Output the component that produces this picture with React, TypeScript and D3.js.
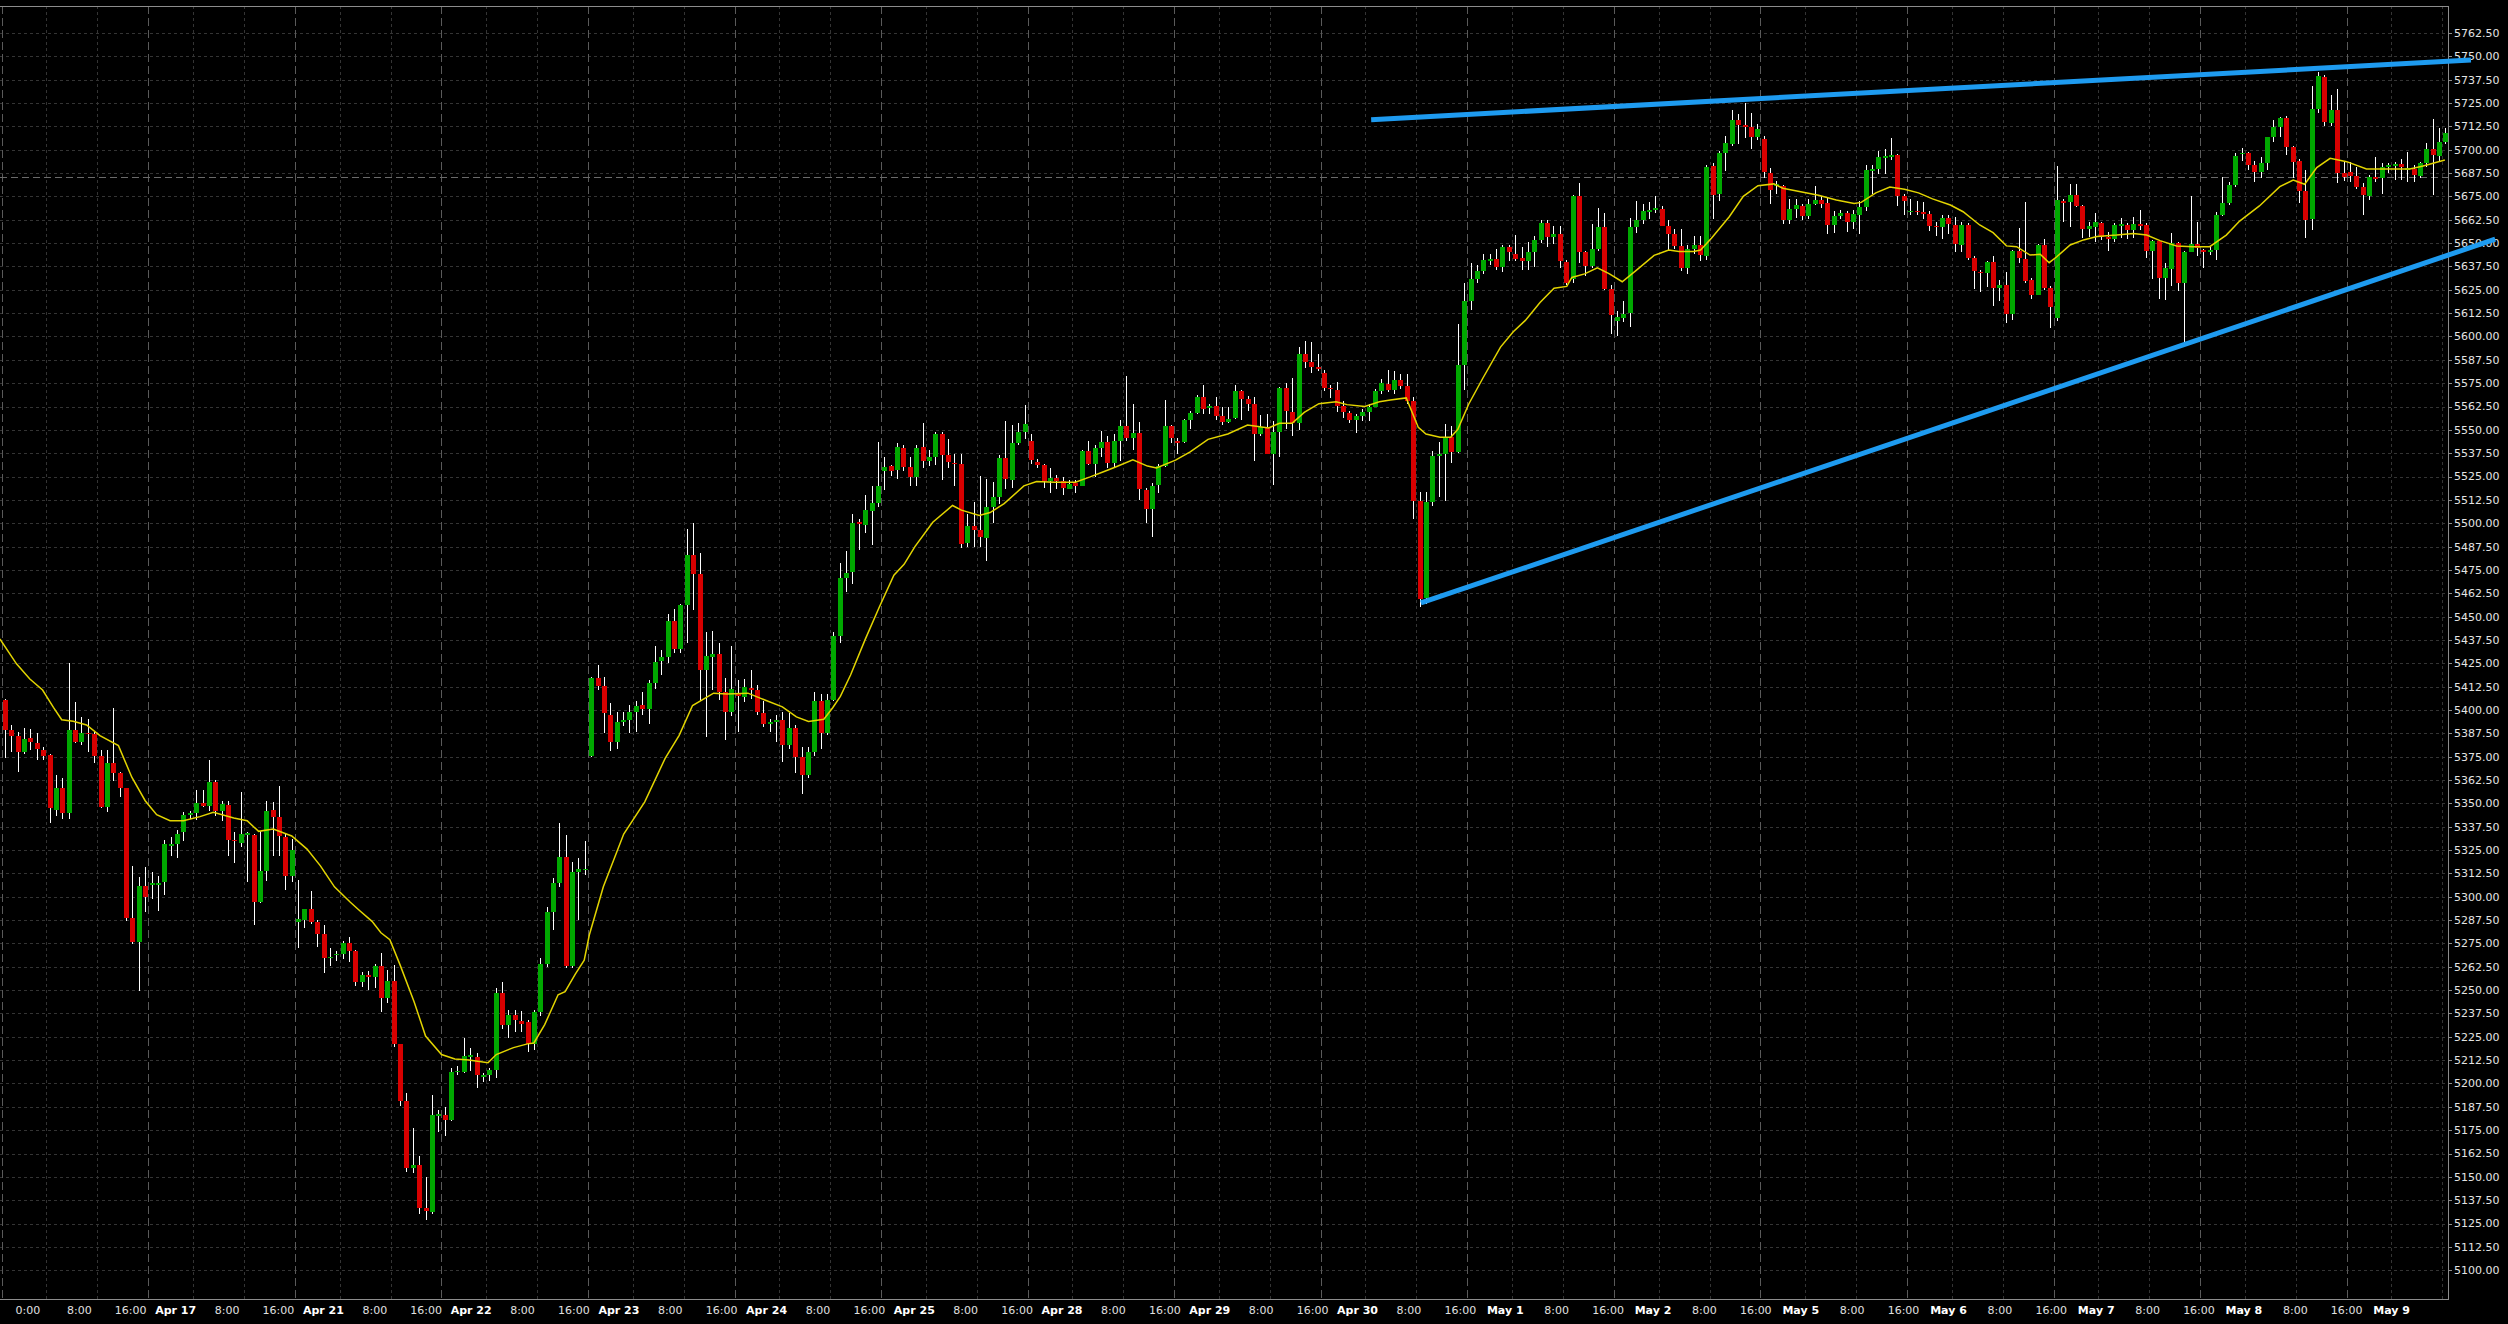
import React from "react";
import * as d3 from "d3";

// ES futures, hourly bars, 17 sessions (Apr 16 - May 9)
const W = 2508;
const H = 1324;
const PLOT_RIGHT = 2448;
const PLOT_TOP = 6;
const PLOT_BOTTOM = 1299;
const PER_SESSION = 23;

const sessionLabels = [
  "0:00", "Apr 17", "Apr 21", "Apr 22", "Apr 23", "Apr 24", "Apr 25", "Apr 28", "Apr 29",
  "Apr 30", "May 1", "May 2", "May 5", "May 6", "May 7", "May 8", "May 9",
];

const opens = [
  5405.5, 5389.5, 5386.3, 5377.7, 5385.2, 5382.5, 5378.8, 5376.1, 5346.6, 5358.4, 5344.6, 5389.5, 5382.7, 5387.9, 5387.0, 5375.6, 5348.2, 5371.6, 5366.4, 5358.0, 5288.7, 5275.9, 5305.5,
  5306.6, 5306.6, 5307.7, 5327.3, 5328.4, 5334.4, 5343.9, 5344.6, 5350.4, 5348.8, 5361.6, 5345.7, 5349.3, 5330.5, 5329.0, 5333.5, 5333.0, 5297.2, 5314.0, 5346.6, 5342.9, 5332.1, 5310.9,
  5286.3, 5287.6, 5293.2, 5286.3, 5280.2, 5267.2, 5268.6, 5269.4, 5275.0, 5270.9, 5254.4, 5258.3, 5257.1, 5263.0, 5245.5, 5255.1, 5220.9, 5190.4, 5154.8, 5156.3, 5133.2, 5131.2, 5183.1,
  5183.1, 5180.4, 5205.9, 5206.4, 5214.3, 5214.3, 5203.3, 5204.5, 5207.4, 5248.7, 5231.5, 5236.9, 5233.2, 5232.7, 5220.9, 5238.4, 5264.0, 5291.8, 5307.3, 5321.5, 5263.0, 5313.4, 5314.1,
  5375.4, 5416.9, 5413.0, 5397.5, 5382.7, 5393.3, 5394.8, 5398.7, 5402.4, 5400.4, 5414.7, 5426.3, 5428.2, 5447.9, 5432.4, 5456.0, 5482.8, 5473.0, 5421.3, 5428.2, 5430.0, 5409.8, 5398.7,
  5408.6, 5406.8, 5411.8, 5410.5, 5398.2, 5392.6, 5393.3, 5394.8, 5381.5, 5390.6, 5374.6, 5365.0, 5377.3, 5404.9, 5387.7, 5405.4, 5439.8, 5470.9, 5473.8, 5500.5, 5499.0, 5506.7, 5510.9,
  5528.1, 5530.6, 5528.7, 5540.3, 5530.0, 5524.5, 5540.7, 5533.4, 5535.4, 5547.6, 5536.5, 5532.5, 5531.5, 5489.5, 5498.4, 5496.5, 5492.3, 5508.6, 5514.3, 5535.0, 5523.3, 5543.0, 5548.7,
  5544.0, 5533.0, 5531.1, 5522.5, 5524.3, 5522.5, 5518.5, 5521.4, 5520.1, 5538.6, 5531.5, 5540.5, 5543.4, 5532.5, 5544.0, 5552.2, 5545.9, 5548.4, 5517.8, 5507.6, 5520.4, 5530.6, 5552.2,
  5543.8, 5543.6, 5555.2, 5558.9, 5567.5, 5561.6, 5562.7, 5557.3, 5554.1, 5556.4, 5570.7, 5566.3, 5563.7, 5547.8, 5551.6, 5537.3, 5549.1, 5572.6, 5559.8, 5553.5, 5590.4, 5586.4, 5583.7,
  5580.3, 5572.6, 5571.3, 5562.7, 5558.9, 5555.4, 5557.3, 5559.3, 5562.5, 5570.7, 5574.6, 5571.3, 5576.7, 5573.6, 5565.2, 5512.1, 5460.0, 5511.1, 5535.9, 5536.9, 5546.1, 5537.9, 5584.7,
  5619.1, 5630.6, 5635.0, 5640.6, 5641.5, 5637.0, 5647.8, 5644.0, 5642.1, 5640.2, 5645.0, 5651.7, 5660.6, 5653.0, 5654.9, 5639.8, 5631.0, 5675.2, 5645.4, 5637.9, 5646.9, 5658.7, 5625.5,
  5608.2, 5610.1, 5612.5, 5658.4, 5662.2, 5666.6, 5667.9, 5668.3, 5658.9, 5654.9, 5648.4, 5636.4, 5646.9, 5648.8, 5643.0, 5691.2, 5676.1, 5698.5, 5703.3, 5715.7, 5713.4, 5712.3, 5706.6,
  5705.6, 5687.6, 5680.7, 5680.7, 5662.6, 5668.3, 5669.8, 5664.7, 5671.2, 5673.1, 5671.4, 5659.9, 5664.7, 5666.0, 5661.2, 5665.0, 5669.3, 5688.4, 5689.6, 5695.6, 5696.4, 5697.0, 5675.0,
  5666.6, 5667.3, 5666.6, 5665.4, 5659.3, 5658.4, 5663.5, 5659.7, 5649.0, 5659.7, 5641.8, 5634.7, 5634.2, 5639.7, 5626.1, 5627.6, 5612.1, 5645.8, 5641.5, 5630.2, 5622.2, 5649.0, 5626.1,
  5609.7, 5672.5, 5672.2, 5675.8, 5669.9, 5657.6, 5658.8, 5660.9, 5653.1, 5652.0, 5659.5, 5659.7, 5657.0, 5660.2, 5659.7, 5645.8, 5651.1, 5631.5, 5636.2, 5649.9, 5628.8, 5645.4, 5649.5,
  5646.3, 5645.4, 5646.3, 5665.0, 5671.3, 5681.1, 5697.5, 5698.1, 5691.8, 5688.2, 5693.1, 5706.6, 5712.0, 5716.8, 5701.3, 5694.0, 5677.9, 5662.7, 5721.6, 5738.8, 5714.5, 5721.3, 5687.4,
  5688.2, 5685.9, 5679.9, 5675.4, 5685.2, 5684.7, 5690.9, 5691.5, 5692.4, 5689.1, 5689.5, 5685.9, 5692.7, 5700.4, 5696.8, 5704.3,
];

const highs = [
  5405.9, 5392.2, 5388.4, 5390.6, 5390.0, 5387.9, 5380.0, 5376.4, 5365.4, 5363.4, 5425.4, 5404.5, 5396.4, 5395.4, 5388.4, 5378.8, 5378.8, 5400.9, 5366.8, 5358.3, 5316.6, 5310.4, 5316.1,
  5313.0, 5311.0, 5330.5, 5332.2, 5335.9, 5345.5, 5346.1, 5357.1, 5357.1, 5373.4, 5362.7, 5351.4, 5351.4, 5334.6, 5356.2, 5334.5, 5333.5, 5335.4, 5351.4, 5350.9, 5359.5, 5333.9, 5330.9,
  5309.1, 5293.5, 5303.3, 5287.6, 5285.1, 5272.8, 5270.8, 5276.5, 5278.2, 5271.3, 5259.8, 5260.0, 5264.2, 5270.1, 5261.0, 5263.5, 5221.3, 5195.1, 5176.2, 5161.2, 5149.9, 5193.9, 5186.0,
  5187.2, 5208.2, 5209.4, 5224.1, 5219.2, 5216.3, 5205.7, 5208.2, 5251.2, 5254.6, 5239.4, 5239.4, 5238.9, 5233.9, 5239.4, 5267.2, 5294.7, 5310.2, 5339.7, 5332.8, 5318.8, 5320.8, 5329.9,
  5417.7, 5424.3, 5417.7, 5403.6, 5398.7, 5398.7, 5402.4, 5404.9, 5409.8, 5415.9, 5434.4, 5431.9, 5451.6, 5454.0, 5457.0, 5497.1, 5500.0, 5484.0, 5441.8, 5442.2, 5435.6, 5417.2, 5434.4,
  5415.9, 5416.4, 5421.3, 5413.5, 5404.9, 5395.0, 5397.5, 5398.7, 5398.2, 5391.8, 5380.3, 5380.3, 5409.8, 5408.6, 5408.6, 5441.8, 5478.6, 5485.1, 5504.8, 5502.3, 5515.3, 5520.1, 5543.4,
  5535.4, 5531.1, 5543.0, 5542.0, 5535.4, 5542.0, 5553.5, 5539.2, 5549.1, 5549.1, 5544.9, 5537.3, 5537.3, 5504.8, 5511.4, 5525.2, 5523.9, 5522.0, 5536.3, 5554.5, 5552.6, 5553.5, 5563.1,
  5547.8, 5534.4, 5531.5, 5529.6, 5525.8, 5524.5, 5522.9, 5522.9, 5539.2, 5544.0, 5542.0, 5549.5, 5546.8, 5547.8, 5555.4, 5578.8, 5564.0, 5554.1, 5519.1, 5521.4, 5531.5, 5566.0, 5552.6,
  5545.9, 5556.0, 5560.2, 5568.8, 5574.0, 5564.0, 5567.5, 5562.5, 5562.1, 5574.0, 5571.3, 5567.9, 5567.5, 5557.9, 5558.3, 5554.5, 5573.2, 5575.1, 5577.8, 5594.6, 5597.5, 5596.9, 5590.8,
  5582.2, 5574.0, 5575.5, 5565.6, 5560.2, 5558.3, 5561.2, 5564.0, 5571.7, 5577.0, 5582.2, 5581.5, 5580.0, 5580.0, 5567.5, 5516.8, 5516.8, 5538.8, 5543.6, 5553.2, 5552.2, 5606.7, 5628.7,
  5639.2, 5638.3, 5644.0, 5644.0, 5646.9, 5648.8, 5648.8, 5654.2, 5647.8, 5650.7, 5653.6, 5662.2, 5662.2, 5659.3, 5659.3, 5641.1, 5675.6, 5682.3, 5645.9, 5660.3, 5668.9, 5666.0, 5627.8,
  5613.4, 5619.1, 5663.5, 5672.7, 5670.8, 5671.8, 5675.0, 5669.8, 5662.2, 5657.4, 5657.4, 5648.8, 5653.6, 5653.6, 5691.8, 5692.8, 5699.5, 5707.5, 5721.5, 5719.0, 5724.9, 5719.6, 5713.8,
  5707.1, 5690.3, 5683.2, 5681.3, 5673.7, 5673.7, 5671.2, 5673.7, 5680.7, 5675.0, 5674.6, 5667.0, 5667.9, 5667.3, 5667.9, 5672.7, 5691.8, 5691.8, 5699.5, 5700.4, 5706.2, 5697.6, 5676.5,
  5673.7, 5672.7, 5671.8, 5667.0, 5661.2, 5665.0, 5665.0, 5664.2, 5661.5, 5660.6, 5643.1, 5635.6, 5640.6, 5643.1, 5630.2, 5634.7, 5646.3, 5657.9, 5671.8, 5631.1, 5649.3, 5652.0, 5627.0,
  5691.3, 5673.4, 5681.5, 5681.5, 5670.4, 5661.5, 5665.9, 5661.5, 5656.1, 5661.0, 5663.3, 5660.6, 5663.8, 5667.7, 5660.6, 5651.7, 5651.5, 5639.2, 5655.2, 5650.8, 5645.8, 5675.2, 5661.5,
  5646.7, 5648.1, 5666.8, 5685.2, 5682.9, 5698.1, 5700.7, 5699.0, 5694.1, 5696.3, 5707.0, 5715.9, 5717.7, 5718.1, 5702.0, 5694.9, 5689.1, 5734.1, 5741.8, 5740.0, 5729.3, 5732.3, 5694.0,
  5693.6, 5690.9, 5682.4, 5686.5, 5696.3, 5692.7, 5692.7, 5693.6, 5694.9, 5698.9, 5691.8, 5693.6, 5703.8, 5716.3, 5711.5, 5711.5,
];

const lows = [
  5374.1, 5377.3, 5366.6, 5376.5, 5378.4, 5373.2, 5373.2, 5339.3, 5343.4, 5341.4, 5341.8, 5382.2, 5381.4, 5377.3, 5371.8, 5347.5, 5345.2, 5362.0, 5353.2, 5286.8, 5274.6, 5249.6, 5291.6,
  5298.7, 5292.1, 5300.7, 5322.0, 5320.5, 5330.0, 5341.6, 5341.2, 5347.9, 5346.1, 5343.4, 5340.7, 5322.0, 5317.9, 5326.4, 5308.0, 5284.8, 5296.5, 5308.6, 5321.6, 5321.6, 5303.6, 5307.7,
  5272.3, 5283.2, 5285.6, 5273.3, 5259.3, 5262.7, 5265.7, 5266.7, 5265.2, 5252.4, 5251.9, 5250.0, 5251.2, 5238.1, 5243.1, 5219.7, 5188.0, 5152.8, 5151.8, 5130.2, 5126.8, 5130.2, 5174.2,
  5172.0, 5179.9, 5204.5, 5205.7, 5206.9, 5197.8, 5200.8, 5201.5, 5202.7, 5229.0, 5224.6, 5227.8, 5227.8, 5216.8, 5217.9, 5236.0, 5262.3, 5282.4, 5305.3, 5261.8, 5261.8, 5287.6, 5311.4,
  5374.9, 5410.5, 5387.7, 5377.8, 5379.0, 5391.3, 5387.7, 5388.4, 5397.5, 5392.6, 5411.0, 5418.9, 5425.3, 5430.7, 5430.7, 5436.1, 5453.3, 5404.9, 5385.4, 5410.5, 5405.6, 5384.0, 5396.8,
  5388.4, 5404.1, 5406.1, 5397.5, 5390.9, 5388.4, 5382.7, 5372.2, 5379.0, 5366.3, 5355.2, 5363.8, 5375.4, 5379.0, 5386.4, 5404.9, 5435.6, 5463.1, 5467.5, 5485.6, 5494.8, 5488.5, 5508.6,
  5517.6, 5525.4, 5523.9, 5527.7, 5520.1, 5520.1, 5529.6, 5530.6, 5531.1, 5522.9, 5529.6, 5520.1, 5486.6, 5487.5, 5487.5, 5487.5, 5479.9, 5500.0, 5510.5, 5518.1, 5519.1, 5542.0, 5544.9,
  5531.5, 5529.6, 5519.1, 5516.2, 5518.1, 5515.3, 5518.1, 5516.2, 5519.7, 5531.1, 5524.8, 5535.4, 5529.6, 5529.6, 5533.1, 5544.0, 5539.2, 5512.4, 5500.0, 5492.7, 5516.2, 5530.0, 5543.0,
  5537.3, 5543.0, 5550.7, 5558.3, 5558.7, 5558.7, 5555.4, 5552.6, 5553.5, 5556.0, 5555.4, 5560.2, 5533.1, 5546.8, 5536.9, 5520.4, 5535.4, 5550.7, 5546.8, 5549.7, 5583.2, 5580.3, 5581.3,
  5570.7, 5566.9, 5559.6, 5556.4, 5553.5, 5548.4, 5554.5, 5554.9, 5562.1, 5569.4, 5570.2, 5569.4, 5572.0, 5563.7, 5502.5, 5455.3, 5456.6, 5509.2, 5513.9, 5512.0, 5532.1, 5537.5, 5571.3,
  5614.4, 5628.7, 5633.5, 5638.3, 5635.4, 5634.5, 5640.2, 5640.2, 5635.4, 5635.4, 5637.3, 5650.1, 5647.8, 5649.7, 5636.4, 5627.8, 5628.7, 5639.2, 5632.5, 5636.4, 5645.9, 5624.9, 5601.4,
  5600.0, 5607.7, 5605.2, 5655.5, 5660.3, 5663.1, 5666.0, 5658.9, 5645.9, 5646.9, 5634.8, 5633.5, 5644.0, 5640.6, 5641.1, 5663.1, 5672.3, 5688.4, 5702.0, 5703.3, 5706.2, 5700.4, 5705.2,
  5685.1, 5671.2, 5676.1, 5660.3, 5660.3, 5663.5, 5662.2, 5663.1, 5670.4, 5668.9, 5655.1, 5655.5, 5663.1, 5655.9, 5657.4, 5655.1, 5667.0, 5676.5, 5687.0, 5687.0, 5694.7, 5669.8, 5665.1,
  5665.1, 5665.1, 5663.1, 5656.4, 5653.6, 5652.0, 5655.0, 5645.4, 5645.4, 5640.9, 5625.4, 5624.0, 5626.7, 5616.5, 5619.2, 5607.0, 5608.8, 5639.2, 5628.8, 5620.1, 5622.0, 5624.9, 5604.7,
  5608.5, 5661.5, 5658.8, 5669.2, 5652.6, 5653.4, 5650.8, 5651.7, 5646.0, 5650.8, 5652.6, 5652.0, 5652.6, 5657.0, 5641.8, 5630.6, 5619.9, 5619.5, 5627.0, 5624.5, 5596.3, 5645.0, 5643.1,
  5636.5, 5643.6, 5641.0, 5664.5, 5670.4, 5679.9, 5694.1, 5689.1, 5682.9, 5684.7, 5689.1, 5704.3, 5707.0, 5697.2, 5684.7, 5671.3, 5652.9, 5657.0, 5719.5, 5712.7, 5712.7, 5682.4, 5683.4,
  5682.9, 5679.0, 5665.0, 5673.1, 5682.9, 5676.3, 5687.4, 5683.8, 5683.8, 5682.9, 5682.9, 5684.7, 5690.9, 5675.8, 5694.1, 5703.0,
];

const closes = [
  5389.5, 5386.3, 5377.7, 5384.7, 5382.7, 5379.0, 5375.6, 5347.3, 5358.4, 5344.6, 5389.5, 5382.7, 5387.9, 5387.0, 5375.6, 5348.2, 5371.6, 5366.4, 5358.0, 5288.7, 5275.9, 5305.5, 5299.6,
  5307.3, 5307.3, 5328.4, 5328.4, 5333.7, 5343.9, 5344.6, 5350.4, 5348.8, 5361.6, 5345.7, 5349.8, 5330.5, 5329.7, 5333.7, 5333.9, 5297.0, 5314.0, 5346.1, 5342.5, 5332.7, 5310.9, 5325.0,
  5288.1, 5293.2, 5286.3, 5280.2, 5267.2, 5267.9, 5269.4, 5275.0, 5270.9, 5254.4, 5258.3, 5257.1, 5263.0, 5245.5, 5255.1, 5220.9, 5190.4, 5154.8, 5156.3, 5133.2, 5131.7, 5183.1, 5183.6,
  5180.4, 5205.9, 5206.9, 5214.8, 5215.3, 5204.5, 5204.5, 5207.4, 5248.7, 5231.5, 5236.9, 5234.0, 5232.0, 5220.9, 5238.4, 5264.0, 5291.8, 5307.3, 5321.5, 5263.0, 5313.4, 5314.6, 5315.1,
  5416.9, 5413.0, 5398.2, 5382.7, 5393.3, 5394.8, 5398.7, 5401.9, 5400.4, 5414.7, 5425.8, 5428.2, 5447.9, 5432.4, 5456.0, 5482.8, 5473.0, 5421.3, 5428.7, 5430.0, 5409.8, 5398.7, 5411.0,
  5407.3, 5412.2, 5410.5, 5398.7, 5392.6, 5393.8, 5394.8, 5381.5, 5390.6, 5374.6, 5365.0, 5377.3, 5404.9, 5387.7, 5405.4, 5439.8, 5470.5, 5473.2, 5500.0, 5499.4, 5507.0, 5510.9, 5520.1,
  5530.2, 5528.1, 5540.7, 5530.0, 5524.5, 5540.3, 5533.4, 5535.4, 5547.6, 5536.7, 5533.0, 5531.5, 5488.9, 5498.4, 5496.5, 5492.7, 5508.6, 5514.3, 5535.0, 5523.9, 5543.0, 5548.7, 5553.0,
  5534.0, 5531.1, 5522.5, 5524.3, 5522.5, 5519.1, 5521.0, 5520.1, 5538.6, 5531.5, 5540.5, 5543.4, 5532.5, 5544.0, 5552.2, 5545.9, 5548.4, 5518.5, 5507.6, 5520.1, 5530.6, 5552.2, 5545.9,
  5543.2, 5555.2, 5558.9, 5567.5, 5561.2, 5562.7, 5557.3, 5554.1, 5556.0, 5570.7, 5566.5, 5564.0, 5547.8, 5551.6, 5537.3, 5549.1, 5572.3, 5560.2, 5553.5, 5590.4, 5586.4, 5583.7, 5582.8,
  5572.6, 5571.7, 5562.7, 5559.3, 5555.4, 5557.3, 5559.3, 5562.5, 5570.7, 5574.9, 5571.3, 5576.7, 5573.6, 5565.2, 5512.1, 5459.5, 5511.1, 5535.9, 5536.9, 5546.1, 5537.9, 5584.7, 5619.1,
  5630.6, 5635.0, 5640.8, 5641.5, 5637.0, 5647.8, 5645.0, 5641.7, 5640.2, 5645.0, 5651.7, 5660.6, 5653.0, 5654.9, 5640.2, 5628.7, 5675.2, 5645.4, 5637.9, 5646.9, 5658.7, 5625.5, 5611.5,
  5610.5, 5611.9, 5658.4, 5662.2, 5667.0, 5667.9, 5668.9, 5659.3, 5654.9, 5648.4, 5636.4, 5646.9, 5648.8, 5643.6, 5690.9, 5675.9, 5698.5, 5703.7, 5715.7, 5713.4, 5712.3, 5706.6, 5711.0,
  5688.0, 5678.4, 5681.7, 5662.6, 5668.3, 5670.4, 5664.7, 5670.8, 5673.1, 5671.2, 5659.9, 5664.7, 5666.0, 5661.2, 5665.4, 5669.3, 5689.0, 5689.6, 5696.0, 5696.6, 5697.0, 5675.0, 5672.3,
  5667.3, 5666.6, 5666.0, 5659.3, 5658.4, 5663.5, 5660.3, 5649.5, 5659.7, 5641.8, 5635.1, 5633.8, 5639.7, 5626.1, 5627.6, 5611.9, 5645.8, 5642.2, 5629.7, 5622.2, 5649.0, 5626.1, 5615.9,
  5673.1, 5671.6, 5675.8, 5669.9, 5657.6, 5659.3, 5661.5, 5653.1, 5652.0, 5659.7, 5660.2, 5657.0, 5660.2, 5659.1, 5645.8, 5651.1, 5631.5, 5636.5, 5649.9, 5628.5, 5645.4, 5649.5, 5647.2,
  5645.4, 5646.3, 5665.0, 5671.3, 5681.1, 5696.6, 5698.4, 5691.8, 5688.2, 5693.1, 5706.6, 5712.0, 5716.8, 5701.6, 5693.6, 5677.9, 5662.4, 5721.6, 5739.5, 5715.0, 5721.3, 5687.4, 5685.6,
  5685.9, 5680.2, 5675.8, 5685.2, 5684.1, 5690.9, 5691.8, 5692.4, 5690.6, 5690.0, 5686.5, 5692.7, 5700.4, 5697.2, 5704.3, 5709.1,
];

// moving average (yellow), read at bar positions
const maBars = [
  -0.8, 1.8, 3.9, 5.9, 7.6, 8.9, 10.7, 12.8, 14.9, 17.8, 19.9, 22, 23.8, 25.9, 28, 30.6, 32.7, 35.9, 38, 39.8,
  42.1, 45, 47.4, 49.5, 51.7, 54.2, 55.5, 57.6, 59, 60.4, 62, 64.2, 66, 68.5, 70.6, 72.8, 75.8, 77.1, 79.8, 82,
  83, 84.7, 86.8, 87.9, 89.5, 90.9, 91.7, 93.9, 97.1, 100.4, 103.6, 105.8, 107.9, 111.2, 113.3, 116.6, 118.7, 122, 124.2, 126.1,
  128.5, 129.9, 131.1, 132.7, 135, 137.2, 139.5, 141.1, 142.8, 145.6, 148.7, 150.1, 152.9, 154.6, 156.8, 159.9, 161.9, 164.7, 168, 170.3,
  172.5, 174.2, 177, 179.3, 180.7, 183.7, 186, 188.8, 191.9, 195, 198.3, 200, 202, 203.9, 206.2, 208.9, 210.6, 213.4, 215.7, 217.4,
  219.9, 221.8, 223, 225.2, 226.9, 228, 229.7, 231.9, 234.7, 236.7, 238.6, 240.9, 243.1, 245.1, 245.9, 247.9, 249.9, 251.8, 253.8, 256,
  258.8, 261.1, 262.7, 265, 266.1, 267.8, 270.6, 272.8, 275.1, 277.6, 279, 281.8, 284.6, 287.4, 290.2, 291.3, 293.6, 295.8, 298.1, 300.3,
  302.5, 305.3, 307.3, 309.9, 312, 314.1, 315.7, 317.8, 319.4, 320.8, 322, 324.1, 326.2, 328.3, 331.4, 334, 336.1, 338.2, 340.8, 343.4,
  346, 348.6, 350.7, 353.8, 357, 359.1, 360.9, 362.8, 364.9, 367.5, 370.6, 373.2, 377.4, 379.5, 382.9,
];
const maValues = [
  5438, 5424.7, 5416.6, 5410.7, 5401.4, 5394.8, 5394, 5392, 5386.3, 5380.9, 5364, 5351.4, 5343.9, 5340.7, 5340.7, 5342.9, 5345.2, 5342.2, 5340.7, 5335,
  5336.3, 5332.5, 5325.5, 5316.5, 5305.3, 5297, 5293, 5286.8, 5280.7, 5277, 5263.5, 5243.8, 5225.4, 5215.5, 5213.1, 5212.6, 5211.1, 5215.5, 5219.2, 5221.2,
  5221.7, 5231.5, 5247.5, 5249.2, 5258.6, 5266, 5279.5, 5305.3, 5333.6, 5350.8, 5374.1, 5386.4, 5402.4, 5409, 5408.6, 5409, 5406.1, 5401.7, 5396.3, 5393.8,
  5395, 5401.2, 5407.3, 5418.7, 5437.8, 5455, 5472.2, 5478, 5487.5, 5500.5, 5509.5, 5507, 5504.2, 5505.7, 5510.5, 5520, 5522.3, 5522, 5522, 5524.8,
  5527.7, 5530, 5534, 5530.6, 5529.6, 5533.8, 5538.2, 5544.9, 5547.8, 5552.6, 5551, 5553.5, 5553.5, 5559.3, 5564, 5565, 5563.5, 5562.5, 5565, 5566,
  5567.1, 5551.3, 5547.8, 5546.1, 5546.1, 5550.3, 5563.7, 5577.5, 5594.3, 5602.5, 5608.6, 5618.2, 5625.8, 5626.8, 5631.6, 5633.5, 5636.7, 5633.5, 5629.3, 5635.4,
  5643.4, 5646.3, 5645.5, 5645.5, 5646.3, 5652.6, 5664.1, 5675, 5680.7, 5681.7, 5679.4, 5677.5, 5675.6, 5673.1, 5671.2, 5671.8, 5676.9, 5680, 5678.8, 5676.9,
  5673.7, 5670.4, 5666.8, 5659.7, 5655.6, 5648.5, 5648.1, 5643.6, 5644, 5639.5, 5642.7, 5649, 5651.7, 5653.5, 5654.3, 5655.2, 5654.3, 5651.3, 5648.5, 5648.1,
  5648.1, 5654.3, 5661.8, 5669.9, 5680.2, 5683.8, 5681.5, 5690.4, 5695.4, 5693.6, 5689.7, 5689.7, 5689.7, 5691.3, 5694.5,
];

// drawn trendlines (bar position, price)
const upperTrendBars = [214.4, 387.0];
const upperTrendPrices = [5716.1, 5748.0];
const lowerTrendBars = [222.2, 390.8];
const lowerTrendPrices = [5457.3, 5652.1];

const refPrice = 5685.5;
const priceMin = 5100;
const priceMax = 5762.5;
const priceStep = 12.5;

const GREEN = "#00a800";
const RED = "#d80000";
const FONT = "'DejaVu Sans', Verdana, sans-serif";

export default function App() {
  const n = opens.length;
  const step = 6.372;
  const x = d3.scaleLinear().domain([0, n - 1]).range([5, 5 + step * (n - 1)]);
  const y = d3.scaleLinear().domain([priceMin, priceMax]).range([33 + (priceMax - priceMin) * 1.8675, 33]);

  const priceTicks = d3.range(priceMin, priceMax + 0.001, priceStep);

  // vertical grid: session open (bright), 0:00 and 8:00 (dim)
  const vgrid: { x: number; major: boolean }[] = [];
  const xTicks: { x: number; text: string; bold: boolean }[] = [];
  for (let k = 0; k < sessionLabels.length; k++) {
    const base = k * PER_SESSION;
    const edge = (i: number) => x(i) - step / 2;
    vgrid.push({ x: edge(base), major: true });
    if (base + 7 < n) vgrid.push({ x: edge(base + 7), major: false });
    if (base + 15 < n) vgrid.push({ x: edge(base + 15), major: false });
    xTicks.push({ x: edge(base + 7), text: sessionLabels[k], bold: k > 0 });
    xTicks.push({ x: edge(base + 15), text: "8:00", bold: false });
    xTicks.push({ x: edge(base + 23), text: "16:00", bold: false });
  }
  const labelX = d3.scaleLinear().domain([45.7, 2346.5]).range([27.2, 2346.5]);

  const maLine = d3
    .line<number>()
    .x((_, i) => x(maBars[i]))
    .y((v) => y(v))(maValues);

  const trend = (bars: number[], prices: number[]) =>
    d3
      .line<number>()
      .x((b) => x(b))
      .y((_, i) => y(prices[i]))(bars);

  return (
    <div>
      <style>{`body{margin:0;background:#000;}`}</style>
      <svg width={W} height={H} style={{ display: "block", background: "#000" }}>
        <defs>
          <clipPath id="plot">
            <rect x={0} y={PLOT_TOP} width={PLOT_RIGHT} height={PLOT_BOTTOM - PLOT_TOP} />
          </clipPath>
        </defs>

        {/* grid */}
        <g shapeRendering="crispEdges">
          {priceTicks.map((p) => (
            <line key={"h" + p} x1={0} x2={PLOT_RIGHT} y1={Math.round(y(p)) + 0.5} y2={Math.round(y(p)) + 0.5}
              stroke="#343434" strokeDasharray="3 3" />
          ))}
          {vgrid.map((g, i) => (
            <line key={"v" + i} x1={Math.round(g.x) + 0.5} x2={Math.round(g.x) + 0.5} y1={PLOT_TOP} y2={PLOT_BOTTOM}
              stroke={g.major ? "#5a5a5a" : "#343434"} strokeDasharray={g.major ? "8 4" : "3 3"} />
          ))}
          <line x1={0} x2={PLOT_RIGHT} y1={Math.round(y(refPrice)) + 0.5} y2={Math.round(y(refPrice)) + 0.5}
            stroke="#6a6a6a" strokeDasharray="7 4" />
        </g>

        {/* candles */}
        <g clipPath="url(#plot)" shapeRendering="crispEdges">
          {opens.map((o, i) => {
            const c = closes[i];
            const hi = Math.max(highs[i], o, c);
            const lo = Math.min(lows[i], o, c);
            const cx = Math.round(x(i));
            const top = y(Math.max(o, c));
            const h = Math.max(1.5, Math.abs(y(o) - y(c)));
            return (
              <g key={i}>
                <line x1={cx + 0.5} x2={cx + 0.5} y1={y(hi)} y2={y(lo)} stroke="#ffffff" strokeWidth={1} />
                <rect x={cx - 2} y={top} width={5} height={h} fill={c >= o ? GREEN : RED} />
              </g>
            );
          })}
          <path d={maLine ?? ""} fill="none" stroke="#e2d400" strokeWidth={1.5} shapeRendering="auto" />
        </g>

        {/* frame */}
        <g stroke="#8c8c8c" strokeWidth={1} shapeRendering="crispEdges">
          <line x1={0} x2={PLOT_RIGHT} y1={PLOT_TOP + 0.5} y2={PLOT_TOP + 0.5} />
          <line x1={0} x2={PLOT_RIGHT + 0.5} y1={PLOT_BOTTOM + 0.5} y2={PLOT_BOTTOM + 0.5} />
          <line x1={PLOT_RIGHT + 0.5} x2={PLOT_RIGHT + 0.5} y1={PLOT_TOP} y2={PLOT_BOTTOM + 1} />
        </g>

        {/* price axis */}
        <g fontFamily={FONT} fontSize={11} fill="#e4e4e4">
          {priceTicks.map((p) => (
            <g key={"t" + p}>
              <line x1={PLOT_RIGHT} x2={PLOT_RIGHT + 4} y1={Math.round(y(p)) + 0.5} y2={Math.round(y(p)) + 0.5}
                stroke="#8c8c8c" shapeRendering="crispEdges" />
              <text x={PLOT_RIGHT + 6} y={y(p)} dy="0.36em">{p.toFixed(2)}</text>
            </g>
          ))}
        </g>

        {/* time axis */}
        <g fontFamily={FONT} fontSize={11} textAnchor="middle">
          {xTicks
            .filter((t) => labelX(t.x) < 2425)
            .map((t, i) => (
              <text key={"x" + i} x={labelX(t.x)} y={1314} fill={t.bold ? "#ffffff" : "#e0e0e0"}
                fontWeight={t.bold ? "bold" : "normal"}>
                {t.text}
              </text>
            ))}
        </g>

        {/* trendlines */}
        <g fill="none" stroke="#1e9bf0" strokeWidth={5}>
          <path d={trend(upperTrendBars, upperTrendPrices) ?? ""} />
          <path d={trend(lowerTrendBars, lowerTrendPrices) ?? ""} />
        </g>
      </svg>
    </div>
  );
}
